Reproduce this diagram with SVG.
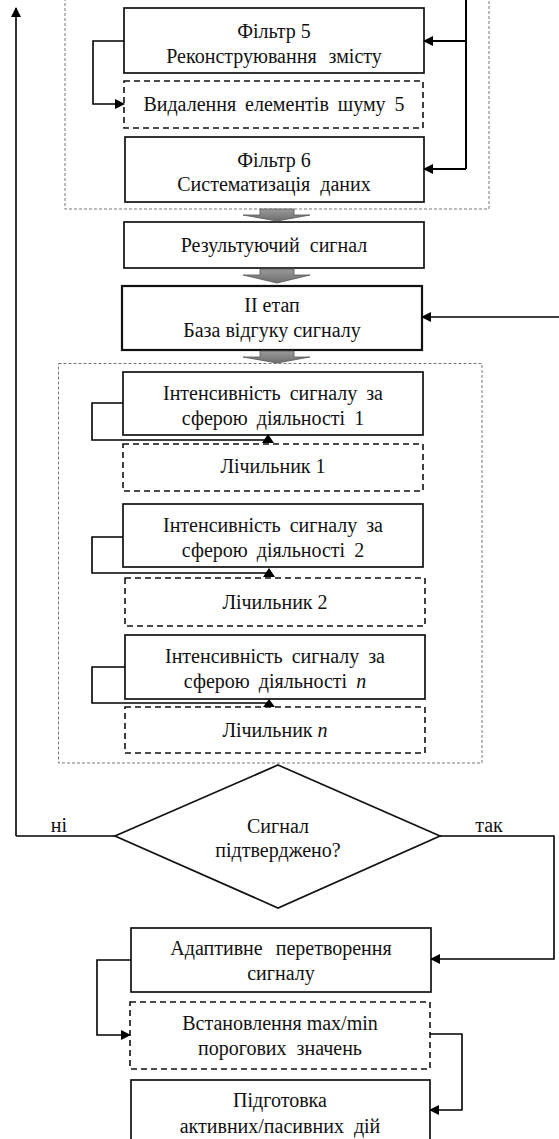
<svg xmlns="http://www.w3.org/2000/svg" width="559" height="1139" viewBox="0 0 559 1139" font-family="'Liberation Serif','DejaVu Serif',serif">
<style>
text{font-family:'Liberation Serif','DejaVu Serif',serif;font-size:20px;fill:#111;text-anchor:middle}
.box{fill:#fff;stroke:#111;stroke-width:1.7}
.thick{stroke-width:2.2}
.dbox{fill:#fff;stroke:#111;stroke-width:1.6;stroke-dasharray:6 4}
.cont{fill:none;stroke:#777;stroke-width:1;stroke-dasharray:3 2}
.con{fill:none;stroke:#000;stroke-width:2}
.thin{fill:none;stroke:#000;stroke-width:1.6}
.blk{fill:url(#g);stroke:#555;stroke-width:0.8}
</style>
<defs>
<marker id="ah" markerWidth="10" markerHeight="10" refX="9" refY="5" orient="auto" markerUnits="userSpaceOnUse"><path d="M0,0 L10,5 L0,10 Z" fill="#000"/></marker>
<linearGradient id="g" x1="0" y1="0" x2="0" y2="1"><stop offset="0" stop-color="#9a9a9a"/><stop offset="1" stop-color="#6e6e6e"/></linearGradient>
</defs>
<g id="containers">
<rect class="cont" x="65" y="-10" width="424" height="219"/>
<rect class="cont" x="58.5" y="363.5" width="423.5" height="399.5"/>
</g>
<g id="filter5"><rect class="box" x="124" y="8" width="300" height="65"/><text x="274" y="38">Фільтр 5</text><text x="274" y="63" word-spacing="7">Реконструювання змісту</text></g>
<g id="noise5"><rect class="dbox" x="124" y="81" width="299" height="47"/><text x="274" y="111" word-spacing="4">Видалення елементів шуму 5</text></g>
<g id="filter6"><rect class="box" x="125" y="137" width="299" height="65"/><text x="274" y="167">Фільтр 6</text><text x="274" y="191" word-spacing="5">Систематизація даних</text></g>
<g id="result"><rect class="box" x="124" y="222" width="300" height="46"/><text x="274" y="252" word-spacing="5">Результуючий сигнал</text></g>
<g id="stage2"><rect class="box thick" x="122" y="286" width="300" height="64"/><text x="272" y="312">II етап</text><text x="272" y="337">База відгуку сигналу</text></g>
<g id="int1"><rect class="box" x="123" y="372" width="300" height="63"/><text x="273" y="400" word-spacing="4">Інтенсивність сигналу за</text><text x="273" y="425" word-spacing="4">сферою діяльності 1</text></g>
<g id="cnt1"><rect class="dbox" x="123" y="444" width="300" height="47"/><text x="273" y="473">Лічильник 1</text></g>
<g id="int2"><rect class="box" x="123" y="504" width="300" height="63"/><text x="273" y="532" word-spacing="4">Інтенсивність сигналу за</text><text x="273" y="557" word-spacing="4">сферою діяльності 2</text></g>
<g id="cnt2"><rect class="dbox" x="125" y="578" width="300" height="48"/><text x="275" y="609">Лічильник 2</text></g>
<g id="intn"><rect class="box" x="125" y="635" width="300" height="64"/><text x="275" y="663" word-spacing="4">Інтенсивність сигналу за</text><text x="275" y="688" word-spacing="4">сферою діяльності <tspan font-style="italic">n</tspan></text></g>
<g id="cntn"><rect class="dbox" x="125" y="707" width="300" height="46"/><text x="275" y="737">Лічильник <tspan font-style="italic">n</tspan></text></g>
<g id="decision"><polygon class="box" points="278,765 440,836 278,908 115,836"/><text x="278" y="833">Сигнал</text><text x="278" y="857">підтверджено?</text></g>
<g id="adaptive"><rect class="box" x="131" y="928" width="300" height="64"/><text x="281" y="955" word-spacing="8">Адаптивне перетворення</text><text x="281" y="980">сигналу</text></g>
<g id="threshold"><rect class="dbox" x="130" y="1002" width="300" height="67"/><text x="280" y="1030">Встановлення max/min</text><text x="280" y="1055" word-spacing="5">порогових значень</text></g>
<g id="prepare"><rect class="box" x="131" y="1080" width="299" height="70"/><text x="280" y="1107">Підготовка</text><text x="280" y="1133" word-spacing="5">активних/пасивних дій</text></g>
<g id="connectors">
<polygon class="blk" points="260,209 294,209 294,215 310,215 277,221 243,215 260,215"/>
<polygon class="blk" points="260,269 294,269 294,275 310,275 277,283 243,275 260,275"/>
<polygon class="blk" points="260,351 294,351 294,357 310,357 277,363 243,357 260,357"/>
<path class="thin" d="M16,836 V8" marker-end="url(#ah)"/>
<path class="con" d="M466,0 V169"/>
<path class="con" d="M466,41 H424" marker-end="url(#ah)"/>
<path class="con" d="M466,169 H424" marker-end="url(#ah)"/>
<path class="thin" d="M124,41 H93 V104 H124" marker-end="url(#ah)"/>
<path class="thin" d="M559,317 H422" marker-end="url(#ah)"/>
<path class="thin" d="M123,403 H92 V440 H268"/>
<polygon points="262,443 274,443 268,434" fill="#000"/>
<path class="thin" d="M123,537 H92 V573 H270"/>
<polygon points="263,577 275,577 269,568" fill="#000"/>
<path class="thin" d="M125,667 H92 V703 H270"/>
<polygon points="263,707 275,707 269,699" fill="#000"/>
<path class="thin" d="M115,836 H16"/>
<path class="thin" d="M440,836 H554 V959 H431" marker-end="url(#ah)"/>
<path class="thin" d="M131,960 H97 V1035 H130" marker-end="url(#ah)"/>
<path class="thin" d="M430,1034 H462 V1110 H430" marker-end="url(#ah)"/>
<text x="59" y="832">ні</text>
<text x="489" y="832">так</text>
</g>
</svg>
